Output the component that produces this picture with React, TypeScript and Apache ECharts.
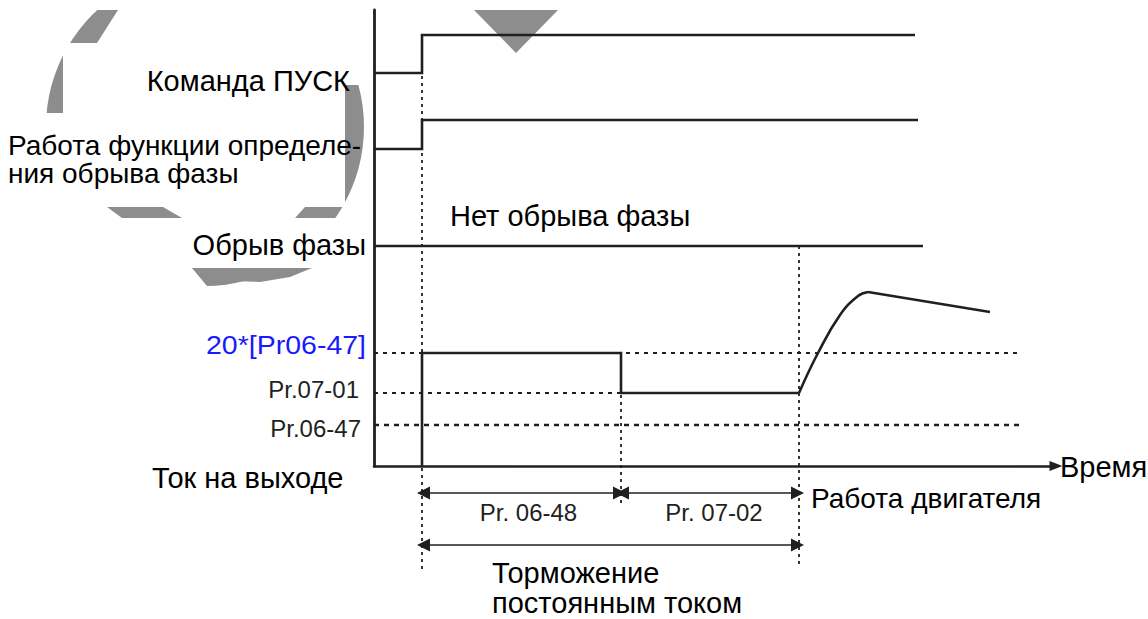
import React, { useEffect, useRef } from "react";
import * as echarts from "echarts";

// ---- time axis (arbitrary units) and level axis (arbitrary units)
const T_MAX = 13.6;
const V_MAX = 45.6;

// key instants
const T_RUN = 0.96; // RUN command
const T_0648 = 4.94; // end of Pr.06-48
const T_0702 = 8.5; // end of Pr.07-02

// current levels
const LVL_20X = 11.3; // 20*[Pr06-47]
const LVL_0701 = 7.3; // Pr.07-01
const LVL_0647 = 4.1; // Pr.06-47

// signals
const runCmdT = [0, T_RUN, T_RUN, 10.82];
const runCmdV = [39.3, 39.3, 43.1, 43.1];
const detectT = [0, T_RUN, T_RUN, 10.88];
const detectV = [31.7, 31.7, 34.6, 34.6];
const phaseLossT = [0, 10.98];
const phaseLossV = [22, 22];
const currentT = [T_RUN, T_RUN, T_0648, T_0648, T_0702];
const currentV = [0, LVL_20X, LVL_20X, LVL_0701, LVL_0701];
const motorRiseT = [8.5, 8.88, 9.32, 9.68, 9.88];
const motorRiseV = [7.3, 11.3, 15.1, 17.0, 17.4];
const motorRunT = [9.88, 12.32];
const motorRunV = [17.4, 15.4];

// reference (dotted) lines
const ref20xEnd = 12.92;
const ref0647End = 12.98;
const vRunTop = 40.4;
const vRunBottom = -10.4;
const v0648Bottom = -3.9;
const v0702Bottom = -9.9;
const arrowRow1 = -2.7;
const arrowRow2 = -7.9;

// texts
const levelLabels = ["20*[Pr06-47]", "Pr.07-01", "Pr.06-47"];
const intervalLabels = ["Pr. 06-48", "Pr. 07-02"];

const INK = "#231f20";
const FONT = '"Liberation Sans", Arial, sans-serif';

const pts = (t: number[], v: number[]) => t.map((x, i) => [x, v[i]]);

export default function App() {
  const ref = useRef<HTMLDivElement>(null);
  useEffect(() => {
    const chart = echarts.init(ref.current!, null, { renderer: "svg" });
    const solid = (t: number[], v: number[], smooth: any = false) => ({
      type: "line",
      data: pts(t, v),
      symbol: "none",
      clip: false,
      smooth,
      silent: true,
      z: 3,
      lineStyle: { color: INK, width: 2.6, join: "miter" },
    });
    const dotted = (t: number[], v: number[], width: number, dash: number[]) => ({
      type: "line",
      data: pts(t, v),
      symbol: "none",
      clip: false,
      silent: true,
      z: 2,
      lineStyle: { color: INK, width, type: dash },
    });
    chart.setOption({
      animation: false,
      grid: { left: 374, top: 10, width: 680, height: 456 },
      xAxis: {
        type: "value",
        min: 0,
        max: T_MAX,
        axisLine: {
          show: true,
          onZero: false,
          symbol: ["none", "triangle"],
          symbolSize: [10, 13],
          symbolOffset: [0, 2],
          lineStyle: { color: INK, width: 2.6 },
        },
        axisTick: { show: false },
        axisLabel: { show: false },
        splitLine: { show: false },
      },
      yAxis: {
        type: "value",
        min: 0,
        max: V_MAX,
        axisLine: { show: true, onZero: false, lineStyle: { color: INK, width: 2.8 } },
        axisTick: { show: false },
        axisLabel: { show: false },
        splitLine: { show: false },
      },
      series: [
        solid(runCmdT, runCmdV),
        solid(detectT, detectV),
        solid(phaseLossT, phaseLossV),
        solid(currentT, currentV),
        solid(motorRiseT, motorRiseV, 0.45),
        solid(motorRunT, motorRunV),
        dotted([0, ref20xEnd], [LVL_20X, LVL_20X], 1.8, [4, 5]),
        dotted([0, T_0648], [LVL_0701, LVL_0701], 1.8, [4, 5]),
        dotted([0, ref0647End], [LVL_0647, LVL_0647], 2.6, [5, 5]),
        dotted([T_RUN, T_RUN], [vRunTop, vRunBottom], 1.8, [3, 4]),
        dotted([T_0648, T_0648], [LVL_20X, v0648Bottom], 1.8, [3, 4]),
        dotted([T_0702, T_0702], [phaseLossV[0], v0702Bottom], 1.8, [3, 4]),
        {
          type: "lines",
          coordinateSystem: "cartesian2d",
          clip: false,
          silent: true,
          symbol: ["triangle", "triangle"],
          symbolSize: 13,
          lineStyle: { color: INK, width: 1.6, opacity: 1, curveness: 0 },
          data: [
            { coords: [[T_RUN + 0.03, arrowRow1], [T_0648 - 0.03, arrowRow1]] },
            { coords: [[T_0648 + 0.03, arrowRow1], [T_0702 - 0.03, arrowRow1]] },
            { coords: [[T_RUN + 0.03, arrowRow2], [T_0702 - 0.03, arrowRow2]] },
          ],
        },
      ],
    });

    const px = (t: number, v: number) => chart.convertToPixel({ gridIndex: 0 }, [t, v]) as number[];
    const axisX = px(0, 0)[0];
    const txt = (
      text: string,
      x: number,
      y: number,
      size: number,
      align = "left",
      fill = "#000",
      scaleX = 1
    ) => ({
      type: "text",
      x,
      y,
      scaleX,
      z: 100,
      silent: true,
      style: { text, fill, font: `${size}px ${FONT}`, align, verticalAlign: "middle" },
    });

    const GRAY = "#8d8d8d";
    const WHITE = "#ffffff";
    const poly = (points: number[][], fill: string, z: number) => ({
      type: "polygon",
      z,
      silent: true,
      shape: { points },
      style: { fill },
    });
    const rect = (x: number, y: number, w: number, h: number, z = -9) => ({
      type: "rect",
      z,
      silent: true,
      shape: { x, y, width: w, height: h },
      style: { fill: WHITE },
    });

    const y20 = px(0, LVL_20X)[1];
    const y0701 = px(0, LVL_0701)[1];
    const y0647 = px(0, LVL_0647)[1];
    const yAxis0 = px(0, 0)[1];
    const yRow1 = px(0, arrowRow1)[1];
    const xRun = px(T_RUN, 0)[0];
    const x0648 = px(T_0648, 0)[0];
    const x0702 = px(T_0702, 0)[0];
    const xEnd = px(T_MAX, 0)[0];

    chart.setOption({
      graphic: [
        // faint watermark
        { type: "circle", z: -10, silent: true, shape: { cx: 205, cy: 127, r: 159 }, style: { fill: GRAY } },
        poly([[474, 10], [558, 10], [516, 53]], GRAY, -10),
        poly([[192, 268], [312, 268], [290, 277], [260, 282], [230, 281], [205, 276]], GRAY, -8),
        rect(0, 0, 1148, 10),
        poly([[118, 10], [372, 10], [372, 43], [97, 43]], WHITE, -9),
        rect(63, 43, 309, 42),
        rect(63, 85, 282, 28),
        rect(0, 113, 345, 94),
        poly([[0, 207], [107, 207], [122, 218], [0, 218]], WHITE, -9),
        poly([[163, 207], [305, 207], [295, 218], [182, 218]], WHITE, -9),
        rect(0, 218, 372, 50),
        poly([[0, 268], [192, 268], [212, 292], [0, 292]], WHITE, -9),
        // labels
        txt("Команда ПУСК", axisX - 24, 81, 29, "right"),
        txt("Работа функции определе-", 8, 145, 28),
        txt("ния обрыва фазы", 8, 173, 28),
        txt("Нет обрыва фазы", 450, 216, 29),
        txt("Обрыв фазы", axisX - 8, 245, 29, "right"),
        txt(levelLabels[0], axisX - 8, y20 - 7, 25, "right", "#1a1aff", 1.14),
        txt(levelLabels[1], axisX - 15, y0701 - 4, 24, "right", INK),
        txt(levelLabels[2], axisX - 13, y0647 + 3, 24, "right", INK),
        txt("Ток на выходе", 152, yAxis0 + 12, 29),
        txt("Время", xEnd + 6, yAxis0 + 1, 29),
        txt(intervalLabels[0], (xRun + x0648) / 2 + 7, yRow1 + 19, 24, "center", INK),
        txt(intervalLabels[1], (x0648 + x0702) / 2 + 4, yRow1 + 19, 24, "center", INK),
        txt("Работа двигателя", x0702 + 12, yRow1 + 5, 28),
        txt("Торможение", 492, 573, 29),
        txt("постоянным током", 492, 603, 29),
      ],
    });

    return () => chart.dispose();
  }, []);
  return (
    <div
      ref={ref}
      style={{ position: "fixed", left: 0, top: 0, width: 1148, height: 619, background: "#fff" }}
    />
  );
}
